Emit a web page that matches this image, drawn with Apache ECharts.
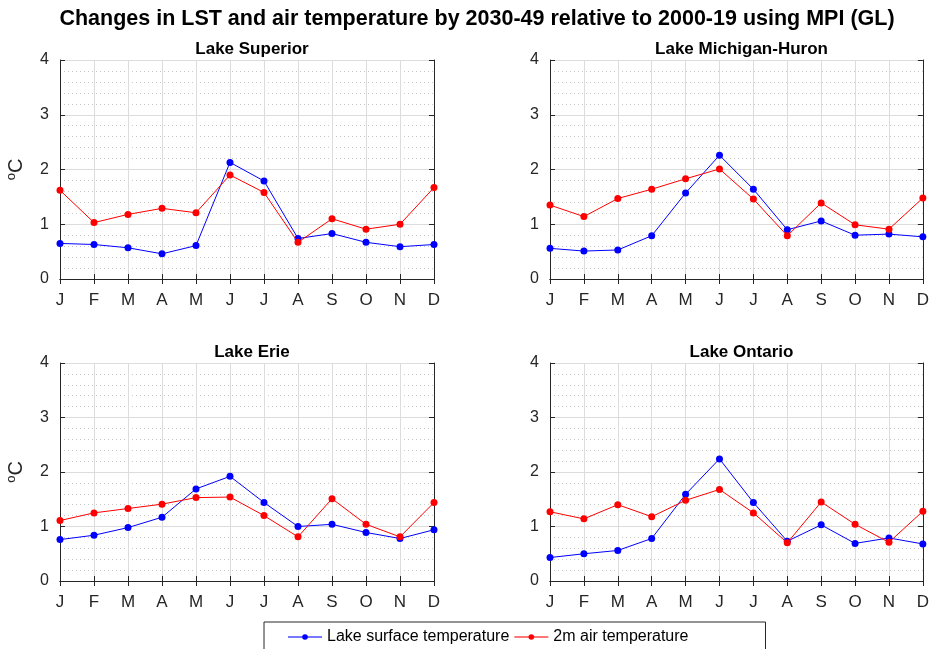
<!DOCTYPE html>
<html><head><meta charset="utf-8">
<script src="https://cdn.jsdelivr.net/npm/echarts@6/dist/echarts.min.js"></script>
<style>html,body{margin:0;padding:0;background:#fff}#c{width:932px;height:649px}</style>
</head><body><div id="c"></div>
<script>
const months = ['J','F','M','A','M','J','J','A','S','O','N','D'];
const lakeNames = ['Lake Superior','Lake Michigan-Huron','Lake Erie','Lake Ontario'];
const lstSuperior = [0.65,0.63,0.57,0.46,0.61,2.13,1.79,0.74,0.83,0.67,0.59,0.63];
const airSuperior = [1.62,1.03,1.18,1.29,1.21,1.90,1.58,0.67,1.10,0.91,1.00,1.67];
const lstMichHuron = [0.56,0.51,0.53,0.79,1.57,2.26,1.64,0.90,1.06,0.80,0.82,0.77];
const airMichHuron = [1.35,1.14,1.47,1.64,1.83,2.01,1.46,0.79,1.39,0.99,0.91,1.48];
const lstErie = [0.76,0.84,0.98,1.17,1.69,1.92,1.44,1.00,1.04,0.89,0.78,0.94];
const airErie = [1.11,1.25,1.33,1.41,1.53,1.54,1.20,0.81,1.51,1.04,0.81,1.44];
const lstOntario = [0.43,0.50,0.56,0.78,1.59,2.24,1.44,0.73,1.03,0.69,0.79,0.68];
const airOntario = [1.27,1.14,1.40,1.18,1.48,1.68,1.25,0.70,1.45,1.04,0.71,1.28];
const yTicks = [0,1,2,3,4];
const seriesNames = ['Lake surface temperature','2m air temperature'];
const mainTitle = 'Changes in LST and air temperature by 2030-49 relative to 2000-19 using MPI (GL)';

const lstAll = [lstSuperior,lstMichHuron,lstErie,lstOntario];
const airAll = [airSuperior,airMichHuron,airErie,airOntario];

const FONT = "'Liberation Sans', Arial, Helvetica, sans-serif";
const AX = '#262626';
const grids = [
  {left:60, top:60, width:374, height:219},
  {left:550, top:60, width:373, height:219},
  {left:60, top:363, width:374, height:218},
  {left:550, top:363, width:373, height:218}
];
const xAxes=[], yAxes=[], series=[], titles=[];
titles.push({text: mainTitle, left: 472, top: 3, textAlign:'center',
  textStyle:{fontFamily:FONT, fontSize:21.5, fontWeight:'bold', color:'#000'}});
grids.forEach((g,i)=>{
  titles.push({text: lakeNames[i], left: g.left + g.width/2, top: g.top-24, textAlign:'center',
    textStyle:{fontFamily:FONT, fontSize:17, fontWeight:'bold', color:'#000'}});
  xAxes.push({type:'category', gridIndex:i, data:months, boundaryGap:false, position:'bottom',
    axisLine:{show:true, lineStyle:{color:AX, width:1}},
    axisTick:{show:true, inside:true, length:5, alignWithLabel:true, lineStyle:{color:AX}},
    axisLabel:{show:true, margin:13, fontFamily:FONT, fontSize:17, color:AX, interval:0},
    splitLine:{show:true, lineStyle:{color:'#dcdcdc', width:1}}});
  xAxes.push({type:'category', gridIndex:i, data:months, boundaryGap:false, position:'top',
    axisLine:{show:true, lineStyle:{color:AX, width:1}},
    axisTick:{show:true, inside:true, length:5, lineStyle:{color:AX}},
    axisLabel:{show:false}, splitLine:{show:false}});
  const y = {type:'value', gridIndex:i, min:yTicks[0], max:yTicks[yTicks.length-1], interval:1, position:'left',
    axisLine:{show:true, lineStyle:{color:AX, width:1}},
    axisTick:{show:true, inside:true, length:5, lineStyle:{color:AX}},
    axisLabel:{show:true, margin:11, fontFamily:FONT, fontSize:16, color:AX},
    splitLine:{show:true, lineStyle:{color:'#dcdcdc', width:1}},
    minorTick:{show:false, splitNumber:5},
    minorSplitLine:{show:true, lineStyle:{color:'#c8c8c8', width:1, type:[1,3]}}};
  if (i%2===0){
    y.name = '{s|o}{c|C}';
    y.nameLocation = 'middle';
    y.nameRotate = 90;
    y.nameGap = 32;
    y.nameTextStyle = {fontFamily:FONT, color:AX, rich:{
      s:{fontFamily:FONT, fontSize:13, color:AX, padding:[0,0,10,0]},
      c:{fontFamily:FONT, fontSize:20, color:AX}}};
  }
  yAxes.push(y);
  yAxes.push({type:'value', gridIndex:i, min:0, max:4, interval:1, position:'right',
    axisLine:{show:true, lineStyle:{color:AX, width:1}},
    axisTick:{show:true, inside:true, length:5, lineStyle:{color:AX}},
    axisLabel:{show:false}, splitLine:{show:false}});
  series.push({name:seriesNames[0], type:'line', xAxisIndex:2*i, yAxisIndex:2*i, data:lstAll[i],
    symbol:'circle', symbolSize:7, color:'#0000ff', lineStyle:{width:1, color:'#0000ff'},
    itemStyle:{color:'#0000ff'}, animation:false, z:3});
  series.push({name:seriesNames[1], type:'line', xAxisIndex:2*i, yAxisIndex:2*i, data:airAll[i],
    symbol:'circle', symbolSize:7, color:'#ff0000', lineStyle:{width:1, color:'#ff0000'},
    itemStyle:{color:'#ff0000'}, animation:false, z:4});
});
const chart = echarts.init(document.getElementById('c'), null, {renderer:'canvas'});
chart.setOption({
  backgroundColor:'#fff',
  animation:false,
  title: titles,
  grid: grids,
  xAxis: xAxes,
  yAxis: yAxes,
  series: series,
  legend: {data: [
      {name: seriesNames[0], lineStyle:{color:'#7878ff', width:2}},
      {name: seriesNames[1], lineStyle:{color:'#ff7878', width:2}}
    ], left:264, top:622, orient:'horizontal',
    borderColor:'#262626', borderWidth:1, padding:[7,77,12,23], itemGap:4,
    itemWidth:34, itemHeight:7,
    textStyle:{fontFamily:FONT, fontSize:16, color:'#000'}}
});
</script></body></html>
